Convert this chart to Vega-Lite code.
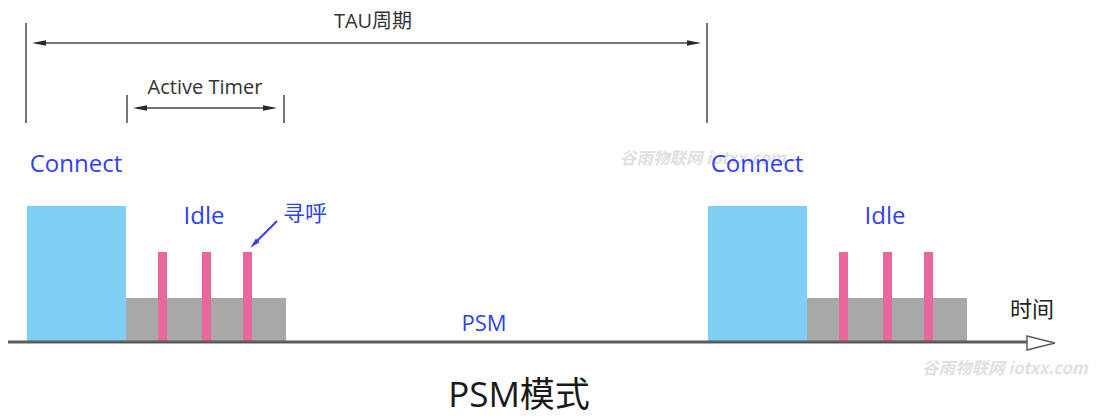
{
  "$schema": "https://vega.github.io/schema/vega-lite/v6.json",
  "width": 1111,
  "height": 416,
  "autosize": {"type": "fit", "contains": "padding"},
  "padding": 0,
  "background": "white",
  "config": {"view": {"stroke": null}},
  "datasets": {
    "blocks": [
      {"state": "Connect", "x": 27, "x2": 126, "y": 206, "y2": 342},
      {"state": "Idle", "x": 126, "x2": 286, "y": 298, "y2": 342},
      {"state": "Paging", "x": 158, "x2": 167, "y": 252, "y2": 342},
      {"state": "Paging", "x": 202, "x2": 211, "y": 252, "y2": 342},
      {"state": "Paging", "x": 243, "x2": 252, "y": 252, "y2": 342},
      {"state": "Connect", "x": 708, "x2": 807, "y": 206, "y2": 342},
      {"state": "Idle", "x": 807, "x2": 967, "y": 298, "y2": 342},
      {"state": "Paging", "x": 839, "x2": 848, "y": 252, "y2": 342},
      {"state": "Paging", "x": 883, "x2": 892, "y": 252, "y2": 342},
      {"state": "Paging", "x": 924, "x2": 933, "y": 252, "y2": 342}
    ],
    "lines": [
      {"kind": "frame", "x": 26, "x2": 26, "y": 23, "y2": 123},
      {"kind": "frame", "x": 707, "x2": 707, "y": 23, "y2": 123},
      {"kind": "frame", "x": 36, "x2": 697, "y": 43, "y2": 43},
      {"kind": "frame", "x": 127, "x2": 127, "y": 95, "y2": 123},
      {"kind": "frame", "x": 284, "x2": 284, "y": 95, "y2": 123},
      {"kind": "frame", "x": 137, "x2": 273, "y": 108, "y2": 108},
      {"kind": "axis", "x": 8, "x2": 1030, "y": 342, "y2": 342},
      {"kind": "pointer", "x": 277, "x2": 255, "y": 221, "y2": 243}
    ],
    "heads": [
      {"dir": "left", "x": 39, "y": 43},
      {"dir": "right", "x": 694, "y": 43},
      {"dir": "left", "x": 140, "y": 108},
      {"dir": "right", "x": 270, "y": 108},
      {"dir": "downleft", "x": 254, "y": 244},
      {"dir": "open", "x": 1041, "y": 343}
    ],
    "labels": [
      {"role": "state", "text": "Connect", "x": 76, "y": 165},
      {"role": "state", "text": "Connect", "x": 757, "y": 165},
      {"role": "state", "text": "Idle", "x": 204, "y": 217},
      {"role": "state", "text": "Idle", "x": 885, "y": 217},
      {"role": "blue", "text": "寻呼", "x": 305, "y": 214},
      {"role": "blue", "text": "PSM", "x": 484, "y": 324},
      {"role": "axis", "text": "时间", "x": 1032, "y": 310},
      {"role": "tau", "text": "TAU周期", "x": 373, "y": 22},
      {"role": "timer", "text": "Active Timer", "x": 205, "y": 88},
      {"role": "title", "text": "PSM模式", "x": 519, "y": 396},
      {"role": "watermark", "text": "谷雨物联网 iotxx.com", "x": 620, "y": 159},
      {"role": "watermark", "text": "谷雨物联网 iotxx.com", "x": 922, "y": 369}
    ]
  },
  "encoding": {
    "x": {"field": "x", "type": "quantitative", "scale": {"domain": [0, 1111], "nice": false, "zero": false}, "axis": null},
    "y": {"field": "y", "type": "quantitative", "scale": {"domain": [0, 416], "nice": false, "zero": false, "reverse": true}, "axis": null}
  },
  "layer": [
    {
      "data": {"name": "labels"},
      "transform": [{"filter": "datum.role == 'watermark'"}],
      "mark": {"type": "text", "align": "left", "baseline": "middle", "font": "Noto Sans CJK SC, DejaVu Sans, sans-serif", "fontSize": 16.5, "fontWeight": "bold", "fontStyle": "italic", "color": "#e0e0e0"},
      "encoding": {"text": {"field": "text"}}
    },
    {
      "data": {"name": "blocks"},
      "mark": {"type": "rect"},
      "encoding": {
        "x2": {"field": "x2"},
        "y2": {"field": "y2"},
        "color": {"field": "state", "type": "nominal", "scale": {"domain": ["Connect", "Idle", "Paging"], "range": ["#7FCEF3", "#A8A8A8", "#E8689E"]}, "legend": null}
      }
    },
    {
      "data": {"name": "lines"},
      "transform": [{"filter": "datum.kind == 'frame'"}],
      "mark": {"type": "rule", "color": "#474747", "strokeWidth": 1.5},
      "encoding": {"x2": {"field": "x2"}, "y2": {"field": "y2"}}
    },
    {
      "data": {"name": "lines"},
      "transform": [{"filter": "datum.kind == 'axis'"}],
      "mark": {"type": "rule", "color": "#5c5c5c", "strokeWidth": 3},
      "encoding": {"x2": {"field": "x2"}, "y2": {"field": "y2"}}
    },
    {
      "data": {"name": "lines"},
      "transform": [{"filter": "datum.kind == 'pointer'"}],
      "mark": {"type": "rule", "color": "#2F3FF2", "strokeWidth": 2},
      "encoding": {"x2": {"field": "x2"}, "y2": {"field": "y2"}}
    },
    {
      "data": {"name": "heads"},
      "transform": [{"filter": "datum.dir == 'right'"}],
      "mark": {"type": "point", "shape": "M -1 -0.4 L 1 0 L -1 0.4 Z", "filled": true, "color": "#2a2a2a", "opacity": 1, "size": 196, "angle": 0}
    },
    {
      "data": {"name": "heads"},
      "transform": [{"filter": "datum.dir == 'left'"}],
      "mark": {"type": "point", "shape": "M -1 -0.4 L 1 0 L -1 0.4 Z", "filled": true, "color": "#2a2a2a", "opacity": 1, "size": 196, "angle": 180}
    },
    {
      "data": {"name": "heads"},
      "transform": [{"filter": "datum.dir == 'downleft'"}],
      "mark": {"type": "point", "shape": "M -1 -0.5 L 1 0 L -1 0.5 Z", "filled": true, "color": "#2F3FF2", "opacity": 1, "size": 110, "angle": 135}
    },
    {
      "data": {"name": "heads"},
      "transform": [{"filter": "datum.dir == 'open'"}],
      "mark": {"type": "point", "shape": "M -1 -0.5 L 1 0 L -1 0.5 Z", "filled": true, "fill": "white", "stroke": "#5c5c5c", "strokeWidth": 1.5, "opacity": 1, "size": 784}
    },
    {
      "data": {"name": "labels"},
      "transform": [{"filter": "datum.role == 'state'"}],
      "mark": {"type": "text", "align": "center", "baseline": "middle", "font": "Open Sans, Noto Sans CJK SC, sans-serif", "fontSize": 24, "color": "#2F3FF2"},
      "encoding": {"text": {"field": "text"}}
    },
    {
      "data": {"name": "labels"},
      "transform": [{"filter": "datum.role == 'blue'"}],
      "mark": {"type": "text", "align": "center", "baseline": "middle", "font": "Open Sans, Noto Sans CJK SC, sans-serif", "fontSize": 22, "color": "#2F3FF2"},
      "encoding": {"text": {"field": "text"}}
    },
    {
      "data": {"name": "labels"},
      "transform": [{"filter": "datum.role == 'axis'"}],
      "mark": {"type": "text", "align": "center", "baseline": "middle", "font": "Open Sans, Noto Sans CJK SC, sans-serif", "fontSize": 22, "color": "#222222"},
      "encoding": {"text": {"field": "text"}}
    },
    {
      "data": {"name": "labels"},
      "transform": [{"filter": "datum.role == 'tau'"}],
      "mark": {"type": "text", "align": "center", "baseline": "middle", "font": "Open Sans, Noto Sans CJK SC, sans-serif", "fontSize": 20, "color": "#333333"},
      "encoding": {"text": {"field": "text"}}
    },
    {
      "data": {"name": "labels"},
      "transform": [{"filter": "datum.role == 'timer'"}],
      "mark": {"type": "text", "align": "center", "baseline": "middle", "font": "Open Sans, Noto Sans CJK SC, sans-serif", "fontSize": 20, "color": "#333333"},
      "encoding": {"text": {"field": "text"}}
    },
    {
      "data": {"name": "labels"},
      "transform": [{"filter": "datum.role == 'title'"}],
      "mark": {"type": "text", "align": "center", "baseline": "middle", "font": "Open Sans, Noto Sans CJK SC, sans-serif", "fontSize": 35, "color": "#1a1a1a"},
      "encoding": {"text": {"field": "text"}}
    }
  ]
}
